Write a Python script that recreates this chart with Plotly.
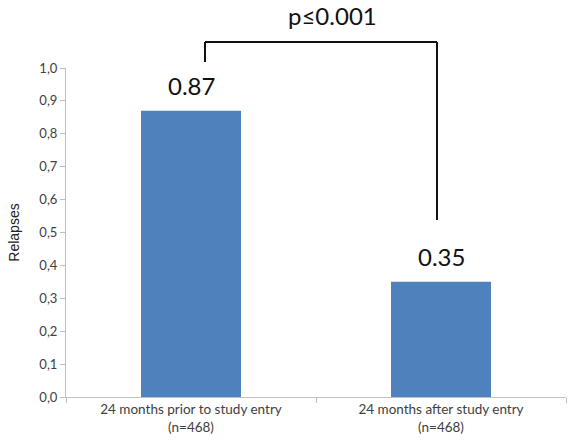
import plotly.graph_objects as go

categories = ["24 months prior to study entry<br>(n=468)", "24 months after study entry<br>(n=468)"]
values = [0.87, 0.35]
value_labels = ["0.87", "0.35"]
p_label = "p≤0.001"
y_title = "Relapses"
tick_vals = [0, 0.1, 0.2, 0.3, 0.4, 0.5, 0.6, 0.7, 0.8, 0.9, 1.0]

fig = go.Figure()
fig.add_trace(go.Bar(x=categories, y=values, marker_color="#4F81BD", width=0.4,
                     marker_line_width=0, hoverinfo="skip"))

for i, (v, t) in enumerate(zip(values, value_labels)):
    fig.add_annotation(x=categories[i], y=v, text=t, showarrow=False, yanchor="bottom",
                       yshift=9, font=dict(family="Lato, Liberation Sans", size=24, color="#111"))

# significance bracket (paper y equals data y since range is [0,1])
top = 1.079
fig.add_shape(type="line", xref="x", yref="paper", x0=0.056, x1=0.056, y0=values[0] + 0.148, y1=top,
              line=dict(color="#111", width=2))
fig.add_shape(type="line", xref="x", yref="paper", x0=0.056, x1=0.984, y0=top, y1=top,
              line=dict(color="#111", width=2))
fig.add_shape(type="line", xref="x", yref="paper", x0=0.984, x1=0.984, y0=values[1] + 0.188, y1=top,
              line=dict(color="#111", width=2))
fig.add_annotation(x=0.565, y=top, xref="x", yref="paper", text=p_label, showarrow=False,
                   yanchor="bottom", yshift=10, font=dict(family="Lato, Liberation Sans", size=24, color="#111"))

fig.update_layout(
    width=571, height=447, margin=dict(l=66, r=5, t=68, b=50, autoexpand=False),
    plot_bgcolor="white", paper_bgcolor="white", separators=",.",
    showlegend=False, bargap=0.6,
    font=dict(family="Lato, Liberation Sans", color="#404040", size=12),
)
fig.update_xaxes(showline=True, linecolor="#BFBFBF", linewidth=1, ticks="outside",
                 tickson="boundaries", ticklen=5, tickcolor="#BFBFBF",
                 tickfont=dict(size=13.5, color="#404040"), showgrid=False)
fig.update_yaxes(range=[0, 1.0], tickvals=tick_vals, tickformat=".1f", showline=True,
                 linecolor="#BFBFBF", linewidth=1, ticks="outside", ticklen=5, tickcolor="#BFBFBF",
                 showgrid=False, zeroline=False,
                 title=dict(text=y_title, font=dict(family="Liberation Sans", size=14, color="#222"), standoff=16),
                 tickfont=dict(size=13, color="#404040"))

fig.write_html("out.html", config={"displayModeBar": False},
               post_script="document.body.style.margin='0px';")
